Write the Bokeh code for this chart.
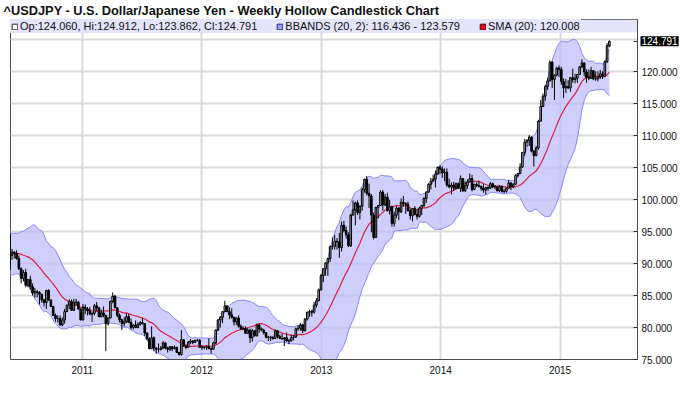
import numpy as np
import pandas as pd
from bokeh.plotting import figure
from bokeh.models import (Range1d, FixedTicker, PrintfTickFormatter, Legend, LegendItem,
                          BoxAnnotation, Label, ColumnDataSource)
from bokeh.embed import file_html
from bokeh.resources import INLINE

TITLE = "^USDJPY - U.S. Dollar/Japanese Yen - Weekly Hollow Candlestick Chart"
FIRST_WEEK = "2010-01-04"
X_START = "2010-05-26 10:00"
X_END = "2015-08-26"
Y_MIN, Y_MAX = 75.0, 128.2
Y_TICKS = [75, 80, 85, 90, 95, 100, 105, 110, 115, 120]
Y_GRID = Y_TICKS + [125]
YEARS = [2011, 2012, 2013, 2014, 2015]
LEGEND_OHLC = "Op:124.060, Hi:124.912, Lo:123.862, Cl:124.791"
LEGEND_BB = "BBANDS (20, 2): 116.436 - 123.579"
LEGEND_SMA = "SMA (20): 120.008"
LAST_TAG = "124.791"
BB_PERIOD, BB_K = 20, 2

# weekly USD/JPY bars, Jan 2010 - Jun 2015
opens = [
    92.9, 92.6, 90.7, 90.3, 90.3, 89.3, 89.9, 91.6, 89.0, 90.1, 90.5, 90.5, 92.5,
    94.6, 93.2, 92.2, 94.2, 94.3, 91.6, 92.5, 90.0, 91.3, 91.8, 91.6, 90.8, 89.2,
    87.7, 88.6, 86.6, 87.5, 86.4, 85.4, 85.6, 85.5, 85.2, 84.3, 83.9, 85.8, 84.3,
    83.3, 81.9, 81.4, 81.4, 80.4, 81.2, 82.5, 83.5, 84.1, 82.7, 83.9, 84.0, 82.9,
    81.2, 83.2, 82.9, 82.6, 82.1, 82.2, 83.4, 83.1, 81.7, 82.3, 81.9, 80.6, 81.5,
    84.1, 84.9, 83.1, 81.9, 81.2, 80.6, 80.9, 81.7, 80.8, 80.0, 80.4, 80.0, 80.5,
    80.8, 80.6, 79.1, 78.2, 76.7, 78.4, 76.8, 76.6, 76.6, 76.8, 77.6, 76.8, 76.6,
    77.0, 76.7, 76.9, 76.1, 75.8, 78.1, 77.1, 76.9, 77.7, 77.9, 77.7, 78.0, 78.0,
    76.9, 76.9, 76.9, 77.0, 76.7, 76.6, 77.6, 79.6, 81.2, 81.6, 82.5, 83.4, 82.5,
    82.0, 81.6, 80.9, 81.5, 80.2, 79.8, 79.9, 79.1, 79.6, 78.4, 79.5, 78.7, 80.4,
    79.8, 79.6, 79.2, 78.5, 78.5, 78.4, 78.3, 79.5, 78.6, 78.3, 78.2, 78.4, 77.9,
    77.9, 78.4, 78.5, 79.8, 79.9, 80.4, 79.5, 81.3, 82.4, 82.5, 82.4, 83.5, 84.2,
    85.9,
    88.1, 89.2, 90.1, 90.8, 92.7, 92.7, 93.5, 93.4, 92.5, 96.0, 95.2, 94.5, 92.8,
    97.6, 98.4, 99.5, 98.0, 99.0, 101.6, 103.2, 101.0, 100.6, 97.6, 94.1, 98.8, 99.1,
    101.2, 99.2, 100.4, 98.3, 98.9, 96.3, 97.6, 98.7, 98.1, 99.6, 99.4, 99.3, 98.3,
    97.5, 98.6, 97.7, 97.4, 98.7, 99.1, 100.2, 101.2, 102.4, 102.9, 103.2, 104.0, 105.1,
    104.8, 104.2, 104.3, 102.3, 102.0, 102.3, 101.8, 102.5, 101.8, 103.3, 101.4, 102.2, 102.8,
    103.3, 101.6, 102.4, 102.2, 102.1, 101.8, 101.5, 101.9, 101.8, 102.5, 102.0, 102.0, 101.4,
    102.1, 101.3, 101.3, 101.8, 102.6, 102.0, 102.4, 103.8, 104.1, 105.1, 107.4, 109.0, 109.3,
    109.8, 107.6, 106.9, 108.1, 112.3, 114.6, 116.2, 117.7, 118.6, 121.5, 118.8, 119.5, 120.6,
    120.4, 118.5, 117.5, 117.7, 117.5, 119.1, 118.8, 119.0, 119.6, 120.8, 121.4, 120.0, 119.1,
    119.0, 120.2, 118.9, 118.9, 119.2, 119.7, 119.3, 121.6, 124.06,
]
highs = [
    93.8, 92.9, 91.7, 90.9, 91.3, 90.2, 92.0, 91.9, 90.4, 90.9, 91.0, 92.8, 94.7,
    94.8, 93.5, 94.3, 94.5, 95.0, 93.7, 92.6, 91.6, 92.3, 92.0, 92.1, 91.3, 89.4,
    89.0, 89.2, 87.6, 88.1, 86.9, 86.2, 85.9, 85.7, 85.3, 84.5, 85.9, 86.0, 84.4,
    83.4, 82.2, 81.9, 81.9, 81.6, 82.9, 83.6, 84.4, 84.4, 84.5, 84.5, 84.2, 83.0,
    83.7, 83.6, 83.2, 83.2, 82.4, 83.7, 84.0, 83.2, 82.8, 83.3, 82.0, 81.6, 84.2,
    85.5, 85.1, 83.2, 82.2, 81.4, 81.6, 82.2, 82.1, 81.4, 80.5, 81.1, 80.8, 81.0,
    81.5, 80.7, 79.3, 78.5, 80.2, 78.6, 76.9, 77.5, 77.1, 77.9, 77.7, 77.0, 77.1,
    77.1, 77.2, 77.0, 76.2, 79.6, 78.2, 77.2, 77.9, 78.2, 78.0, 78.1, 78.2, 78.2,
    77.2, 77.1, 77.2, 78.3, 76.9, 77.8, 79.7, 81.3, 81.8, 82.6, 84.2, 83.5, 83.2,
    83.0, 81.7, 81.6, 81.9, 80.5, 80.2, 80.2, 79.9, 79.8, 79.8, 79.6, 80.6, 80.6,
    80.0, 79.8, 79.3, 78.7, 78.7, 78.7, 79.7, 79.6, 78.9, 79.0, 78.5, 79.2, 78.2,
    78.9, 78.8, 80.0, 80.4, 80.7, 80.6, 81.5, 82.5, 82.8, 82.8, 84.0, 84.6, 86.1,
    88.4,
    89.3, 90.2, 90.9, 92.8, 94.1, 94.5, 94.0, 94.8, 96.6, 96.7, 95.8, 94.9, 97.8,
    99.9, 99.7, 99.9, 99.1, 101.9, 103.3, 103.7, 102.5, 100.9, 98.0, 98.9, 99.2, 101.5,
    101.5, 100.9, 101.1, 100.0, 99.1, 98.1, 99.0, 98.8, 100.2, 100.6, 99.6, 99.7, 98.6,
    98.7, 99.0, 98.5, 98.9, 99.2, 100.4, 101.3, 102.6, 103.4, 103.9, 104.6, 105.2, 105.4,
    105.2, 104.9, 104.9, 103.3, 102.7, 102.8, 102.7, 102.7, 103.8, 103.4, 102.9, 103.2, 104.1,
    103.9, 102.5, 102.7, 103.0, 102.2, 102.5, 102.0, 102.1, 102.8, 102.7, 102.3, 102.1, 102.3,
    102.2, 101.7, 101.9, 103.1, 102.8, 102.6, 104.0, 104.2, 105.7, 107.4, 109.5, 109.5, 110.1,
    109.9, 107.8, 108.4, 112.5, 115.6, 116.6, 118.0, 119.1, 121.8, 121.7, 119.6, 120.8, 121.0,
    120.8, 119.0, 118.9, 118.7, 119.2, 120.5, 119.7, 119.7, 120.9, 122.0, 121.5, 120.4, 120.4,
    120.8, 120.3, 120.1, 120.1, 120.3, 120.1, 121.8, 124.5, 124.912,
]
lows = [
    91.6, 90.5, 89.9, 89.4, 88.6, 88.6, 89.7, 88.8, 88.1, 89.9, 89.6, 90.0, 92.2,
    92.5, 91.9, 92.1, 93.0, 88.0, 91.4, 89.1, 89.2, 90.6, 90.8, 90.6, 89.0, 86.9,
    87.2, 86.3, 86.3, 85.9, 85.0, 84.7, 84.7, 83.6, 83.9, 83.3, 82.9, 84.2, 83.2,
    81.8, 80.9, 80.8, 80.3, 80.2, 80.6, 82.4, 82.9, 82.6, 82.6, 83.5, 82.8, 81.1,
    81.1, 82.1, 81.9, 81.9, 80.9, 81.9, 82.6, 81.6, 81.6, 81.6, 76.3, 80.3, 81.4,
    83.8, 83.0, 81.6, 80.8, 79.6, 80.2, 80.7, 80.7, 79.7, 79.7, 79.9, 79.9, 80.3,
    80.5, 78.7, 78.1, 76.6, 76.6, 76.3, 75.9, 76.1, 76.4, 76.6, 76.6, 76.1, 76.3,
    76.3, 76.6, 76.0, 75.6, 75.6, 77.0, 76.6, 76.8, 77.4, 77.4, 77.6, 77.8, 76.8,
    76.5, 76.6, 76.5, 76.6, 75.9, 76.5, 77.4, 79.5, 80.0, 80.7, 82.4, 82.4, 81.3,
    81.4, 80.3, 80.4, 80.0, 79.7, 79.6, 79.0, 79.0, 77.6, 77.8, 78.6, 78.6, 79.2,
    79.4, 78.9, 78.3, 77.9, 77.9, 78.1, 78.2, 78.3, 78.2, 78.1, 77.1, 77.8, 77.4,
    77.8, 78.0, 78.4, 79.5, 79.5, 79.1, 79.4, 81.1, 81.7, 81.7, 82.2, 83.1, 84.1,
    85.8,
    87.1, 88.1, 88.1, 90.3, 92.2, 92.2, 92.2, 90.9, 91.9, 94.9, 93.9, 92.6, 92.6,
    97.5, 96.0, 97.6, 96.9, 98.3, 101.1, 100.7, 98.7, 94.9, 93.8, 94.0, 97.1, 99.0,
    98.3, 99.0, 98.1, 97.7, 95.8, 95.8, 97.1, 96.8, 97.9, 98.9, 97.8, 98.1, 96.9,
    96.6, 97.6, 96.9, 97.2, 97.6, 98.8, 99.5, 101.1, 101.6, 102.8, 101.9, 103.9, 104.0,
    103.4, 102.9, 102.0, 101.8, 100.8, 101.4, 101.6, 101.7, 101.2, 101.2, 101.2, 101.7, 102.7,
    101.3, 101.5, 102.0, 101.9, 101.4, 101.1, 100.8, 101.4, 101.7, 101.8, 101.6, 101.3, 101.2,
    101.1, 101.0, 101.1, 101.7, 101.5, 101.8, 102.3, 103.5, 104.0, 105.0, 106.9, 108.3, 108.4,
    107.4, 105.2, 106.8, 107.8, 112.2, 114.5, 115.5, 117.2, 118.5, 117.5, 115.6, 119.3, 119.2,
    118.0, 115.9, 116.7, 117.3, 116.9, 118.3, 118.2, 118.3, 119.5, 120.6, 119.3, 118.3, 118.7,
    118.9, 118.7, 118.6, 118.5, 118.9, 118.9, 119.2, 121.4, 123.862,
]
closes = [
    92.6, 90.7, 90.3, 90.3, 89.3, 89.9, 91.6, 89.0, 90.1, 90.5, 90.5, 92.5, 94.6,
    93.2, 92.2, 94.2, 94.3, 91.6, 92.5, 90.0, 91.3, 91.8, 91.6, 90.8, 89.2, 87.7,
    88.6, 86.6, 87.5, 86.4, 85.4, 85.6, 85.5, 85.2, 84.3, 83.9, 85.8, 84.3, 83.3,
    81.9, 81.4, 81.4, 80.4, 81.2, 82.5, 83.5, 84.1, 82.7, 83.9, 84.0, 82.9, 81.2,
    83.2, 82.9, 82.6, 82.1, 82.2, 83.4, 83.1, 81.7, 82.3, 81.9, 80.6, 81.5, 84.1,
    84.9, 83.1, 81.9, 81.2, 80.6, 80.9, 81.7, 80.8, 80.0, 80.4, 80.0, 80.5, 80.8,
    80.6, 79.1, 78.2, 76.7, 78.4, 76.8, 76.6, 76.6, 76.8, 77.6, 76.8, 76.6, 77.0,
    76.7, 76.9, 76.1, 75.8, 78.1, 77.1, 76.9, 77.7, 77.9, 77.7, 78.0, 78.0, 76.9,
    76.9, 76.9, 77.0, 76.7, 76.6, 77.6, 79.6, 81.2, 81.6, 82.5, 83.4, 82.5, 82.0,
    81.6, 80.9, 81.5, 80.2, 79.8, 79.9, 79.1, 79.6, 78.4, 79.5, 78.7, 80.4, 79.8,
    79.6, 79.2, 78.5, 78.5, 78.4, 78.3, 79.5, 78.6, 78.3, 78.2, 78.4, 77.9, 77.9,
    78.4, 78.5, 79.8, 79.9, 80.4, 79.5, 81.3, 82.4, 82.5, 82.4, 83.5, 84.2, 85.9,
    88.1,
    89.2, 90.1, 90.8, 92.7, 92.7, 93.5, 93.4, 92.5, 96.0, 95.2, 94.5, 92.8, 97.6,
    98.4, 99.5, 98.0, 99.0, 101.6, 103.2, 101.0, 100.6, 97.6, 94.1, 98.8, 99.1, 101.2,
    99.2, 100.4, 98.3, 98.9, 96.3, 97.6, 98.7, 98.1, 99.6, 99.4, 99.3, 98.3, 97.5,
    98.6, 97.7, 97.4, 98.7, 99.1, 100.2, 101.2, 102.4, 102.9, 103.2, 104.0, 105.1, 104.8,
    104.2, 104.3, 102.3, 102.0, 102.3, 101.8, 102.5, 101.8, 103.3, 101.4, 102.2, 102.8, 103.3,
    101.6, 102.4, 102.2, 102.1, 101.8, 101.5, 101.9, 101.8, 102.5, 102.0, 102.0, 101.4, 102.1,
    101.3, 101.3, 101.8, 102.6, 102.0, 102.4, 103.8, 104.1, 105.1, 107.4, 109.0, 109.3, 109.8,
    107.6, 106.9, 108.1, 112.3, 114.6, 116.2, 117.7, 118.6, 121.5, 118.8, 119.5, 120.6, 120.4,
    118.5, 117.5, 117.7, 117.5, 119.1, 118.8, 119.0, 119.6, 120.8, 121.4, 120.0, 119.1, 119.0,
    120.2, 118.9, 118.9, 119.2, 119.7, 119.3, 121.6, 124.1, 124.791,
]

# ---- derived series -------------------------------------------------------
dates = pd.date_range(FIRST_WEEK, periods=len(closes), freq="W-MON")
o = np.array(opens, dtype=float)
h = np.array(highs, dtype=float)
l = np.array(lows, dtype=float)
c = np.array(closes, dtype=float)
cs = pd.Series(c)
sma = cs.rolling(BB_PERIOD).mean()
sd = cs.rolling(BB_PERIOD).std(ddof=0)
upper = sma + BB_K * sd
lower = sma - BB_K * sd
hollow = c >= o

FRAME_LEFT, FRAME_RIGHT_PAD, FRAME_TOP, FRAME_BOTTOM_PAD = 10, 41, 19, 40
FIG_W, FIG_H = 680, 399
FRAME_H = FIG_H - FRAME_TOP - FRAME_BOTTOM_PAD
PX_PER_UNIT = FRAME_H / (Y_MAX - Y_MIN)
LEGEND_ROW_PX = 13
FONT = "Liberation Sans"

p = figure(width=FIG_W, height=FIG_H, x_axis_type="datetime", y_axis_location="right",
           x_range=Range1d(pd.Timestamp(X_START), pd.Timestamp(X_END)),
           y_range=Range1d(Y_MIN, Y_MAX), output_backend="svg", toolbar_location=None,
           min_border_left=FRAME_LEFT, min_border_right=FRAME_RIGHT_PAD,
           min_border_top=FRAME_TOP, min_border_bottom=FRAME_BOTTOM_PAD, title=TITLE)
p.background_fill_color = "white"
p.border_fill_color = "white"
p.outline_line_color = "#4a4a4a"
p.outline_line_width = 1

p.title.text_font = FONT
p.title.text_font_size = "12.8px"
p.title.text_font_style = "bold"
p.title.text_color = "#111111"
p.title.align = "left"
p.title.offset = -7
p.title.standoff = 0
p.title.vertical_align = "top"

# band
band_src = ColumnDataSource(dict(x=dates, up=upper, lo=lower, mid=sma))
p.varea(x="x", y1="lo", y2="up", source=band_src, fill_color="#bcbcfa", fill_alpha=0.72)
p.line(x="x", y="up", source=band_src, line_color="#8686ff", line_width=1)
p.line(x="x", y="lo", source=band_src, line_color="#8686ff", line_width=1)
p.line(x="x", y="mid", source=band_src, line_color="#dc1e46", line_width=1.2)

# candles
WEEK_MS = 7 * 24 * 3600 * 1000
candle_src = ColumnDataSource(dict(
    x=dates, h=h, l=l, top=np.maximum(o, c), bot=np.minimum(o, c),
    fill=np.where(hollow, "#b0b0b0", "#000000")))
p.segment(x0="x", y0="l", x1="x", y1="h", source=candle_src, line_color="black", line_width=1)
p.vbar(x="x", top="top", bottom="bot", width=0.7 * WEEK_MS, source=candle_src,
       fill_color="fill", line_color="black", line_width=1)

# axes / grids
year_ticks = [pd.Timestamp(f"{y}-01-01").value // 10**6 for y in YEARS]
xax = p.xaxis[0]
xax.ticker = FixedTicker(ticks=year_ticks)
xax.major_label_overrides = {t: str(y) for t, y in zip(year_ticks, YEARS)}
xax.major_tick_in = 0
xax.major_tick_out = 0
xax.minor_tick_in = 0
xax.minor_tick_out = 0
xax.major_label_standoff = 6
xax.axis_line_color = "#4a4a4a"
xax.major_label_text_font = FONT
xax.major_label_text_font_size = "10px"
xax.major_label_text_color = "#111111"

yax = p.yaxis[0]
yax.ticker = FixedTicker(ticks=Y_TICKS + [closes[-1]])
yax.formatter = PrintfTickFormatter(format="%.3f")
yax.major_label_overrides = {closes[-1]: ""}
yax.major_tick_in = 4
yax.major_tick_out = 0
yax.minor_tick_in = 0
yax.minor_tick_out = 0
yax.major_tick_line_color = "#333333"
yax.major_label_standoff = 4
yax.axis_line_color = "#4a4a4a"
yax.major_label_text_font = FONT
yax.major_label_text_font_size = "10px"
yax.major_label_text_color = "#111111"

p.xgrid.ticker = FixedTicker(ticks=year_ticks)
p.ygrid.ticker = FixedTicker(ticks=Y_GRID)
for g in (p.xgrid[0], p.ygrid[0]):
    g.grid_line_color = "#dadada"
    g.grid_line_width = 2

# legend row
row = BoxAnnotation(bottom=Y_MAX - LEGEND_ROW_PX / PX_PER_UNIT, fill_color="#e4e4fa",
                    fill_alpha=1, line_alpha=0, level="underlay")
p.add_layout(row)

nan_box = dict(left=[np.nan], right=[np.nan], top=[np.nan], bottom=[np.nan])
ic1 = p.quad(source=ColumnDataSource(nan_box), fill_color="white", line_color="#333333")
ic2 = p.quad(source=ColumnDataSource(nan_box), fill_color="#9c9cf0", line_color="#2a2a8a")
ic3 = p.quad(source=ColumnDataSource(nan_box), fill_color="#e8001c", line_color="#500000")
legend = Legend(items=[LegendItem(label=LEGEND_OHLC, renderers=[ic1]),
                       LegendItem(label=LEGEND_BB, renderers=[ic2]),
                       LegendItem(label=LEGEND_SMA, renderers=[ic3])],
                orientation="horizontal", location="top_left", margin=0, padding=1,
                spacing=19, glyph_width=7, glyph_height=7, label_standoff=2,
                label_text_font=FONT, label_text_font_size="11px",
                label_text_color="#111111", background_fill_color="#e4e4fa",
                background_fill_alpha=1, border_line_alpha=0)
p.add_layout(legend)

# last price tag (kept in a side panel so it is not clipped to the frame)
tag_y = FRAME_TOP + (Y_MAX - closes[-1]) * PX_PER_UNIT
p.add_layout(Label(x=FIG_W - FRAME_RIGHT_PAD + 1, y=tag_y, x_units="canvas", y_units="canvas",
                   text=LAST_TAG, text_font=FONT, text_font_size="10px",
                   text_color="white", background_fill_color="black",
                   text_baseline="middle", text_align="left", padding=1), "below")

open("out.html", "w").write(file_html(p, INLINE))
